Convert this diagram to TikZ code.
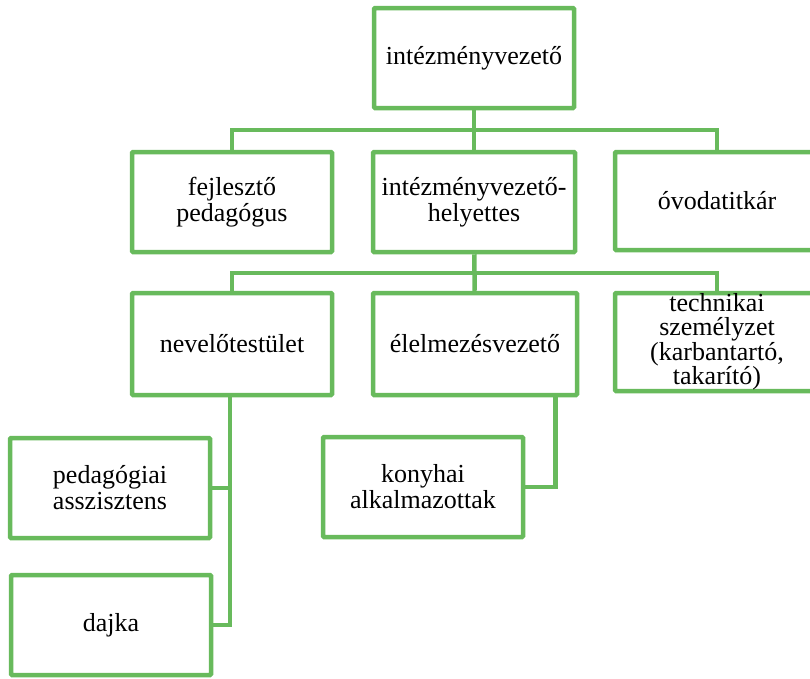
\documentclass[tikz,border=0pt]{standalone}
\usepackage{fontspec}
\setmainfont{Liberation Serif}
\usepackage{tikz}
\usetikzlibrary{positioning}
\definecolor{grn}{RGB}{104,186,92}

\begin{document}
\begin{tikzpicture}[x=1pt, y=-1pt, line width=4.5pt]
	\tikzstyle{every node} = [rectangle, draw = grn, fill = white, rounded corners = 1pt, minimum width = 200pt, minimum height = 100pt, inner sep = 0pt, align = center, font = \fontsize{26}{26}\selectfont]
\useasboundingbox (0,0) rectangle (810,678);
\node (1) at (474, 58) {intézményvezető};
\node (2) at (232, 202) {fejlesztő\\pedagógus};
\node[minimum width = 202pt] (3) at (474, 202) {intézményvezető-\\helyettes};
\node[minimum width = 204pt, minimum height = 98pt] (4) at (717, 201) {óvodatitkár};
\node[minimum height = 102pt] (5) at (232, 344) {nevelőtestület};
\node[minimum width = 204pt, minimum height = 102pt] (6) at (475, 344) {élelmezésvezető};
\node[minimum width = 204pt, minimum height = 98pt, font = \fontsize{26}{23.5}\selectfont] (7) at (717, 342) {technikai\\személyzet\\(karbantartó,\\takarító)};
\node (8) at (110, 488) {pedagógiai\\asszisztens};
\node (9) at (111, 625) {dajka};
\node (10) at (423, 487) {konyhai\\alkalmazottak};
\coordinate (b1) at (474, 130);
\coordinate (b2) at (474, 273);
	\path[draw = grn] (1) -- (3);
	\path[draw = grn] (2.north) |- (b1) -| (4.north);
	\path[draw = grn] (3) -- (6);
	\path[draw = grn] (5.north) |- (b2) -| (7.north);
	\path[draw = grn] ([xshift = -2pt]5.south) |- (8.east);
	\path[draw = grn] ([xshift = -2pt]5.south) |- (9.east);
	\path[draw = grn] ([xshift = -24pt]6.south east) |- (10.east);
\end{tikzpicture}
\end{document}
